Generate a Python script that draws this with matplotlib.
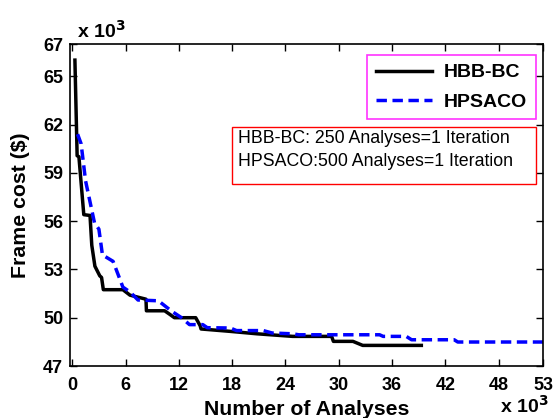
import matplotlib.pyplot as plt
from matplotlib.patches import Rectangle

plt.rcParams['font.family'] = ['Liberation Sans', 'DejaVu Sans']

# HBB-BC convergence (x: analyses / 1000, y: cost / 1000)
hbb_x = [0.3, 0.55, 0.75, 1.3, 2.0, 2.2, 2.55, 3.1, 3.3, 3.5, 5.7, 6.5, 8.3, 8.35,
         10.4, 11.0, 11.5, 13.9, 14.4, 14.5, 17.8, 20.8, 24.8, 29.2, 29.4, 31.6,
         32.7, 39.3]
hbb_y = [66.0, 60.06, 60.0, 56.4, 56.35, 54.5, 53.2, 52.6, 52.5, 51.74, 51.74,
         51.4, 51.15, 50.43, 50.43, 50.2, 50.0, 50.0, 49.5, 49.3, 49.15, 49.0,
         48.84, 48.84, 48.53, 48.53, 48.28, 48.28]

# HPSACO convergence
hps_x = [0.6, 1.0, 1.5, 2.0, 2.5, 3.0, 3.4, 4.6, 5.7, 6.5, 7.4, 9.7, 11.2, 12.3,
         13.2, 14.7, 15.2, 17.8, 18.5, 21.5, 22.5, 24.8, 25.5, 34.6, 35.0, 37.6,
         38.2, 43.0, 43.4, 53.0]
hps_y = [61.4, 60.8, 58.5, 57.2, 55.9, 55.5, 53.9, 53.5, 51.9, 51.6, 51.1, 51.05,
         50.4, 50.0, 49.57, 49.57, 49.38, 49.36, 49.2, 49.2, 49.05, 49.0, 48.94,
         48.94, 48.84, 48.84, 48.63, 48.63, 48.49, 48.49]

xticks = [0, 6, 12, 18, 24, 30, 36, 42, 48, 53]
yticks = [47, 50, 53, 56, 59, 62, 65, 67]

fig = plt.figure(figsize=(5.54, 4.18), dpi=100)
ax = fig.add_axes([0.1264, 0.1244, 0.8538, 0.7703])

ax.plot(hbb_x, hbb_y, color='black', lw=2.5, label='HBB-BC')
ax.plot(hps_x, hps_y, color='blue', lw=2.5, ls=(0, (3, 1.6)), label='HPSACO')

ax.set_xlim(-0.25, 53)
ax.set_ylim(47, 67)
ax.set_xticks(xticks)
ax.set_yticks(yticks)
ax.tick_params(direction='in', top=True, right=True, length=5, width=1,
               labelsize=13)
ax.tick_params(axis='x', pad=8)
ax.tick_params(axis='y', pad=5)
for lab in ax.get_xticklabels() + ax.get_yticklabels():
    lab.set_fontweight('bold')
for s in ax.spines.values():
    s.set_linewidth(1.2)

ax.set_xlabel('Number of Analyses', fontsize=15.3, fontweight='bold', labelpad=4)
ax.set_ylabel('Frame cost ($)', fontsize=15.3, fontweight='bold', labelpad=9)

fig.text(0.139, 0.91, r'x 10$^{\mathbf{3}}$', fontsize=14, fontweight='bold')
fig.text(0.902, 0.012, r'x 10$^{\mathbf{3}}$', fontsize=14, fontweight='bold')

leg = ax.legend(loc='upper right', bbox_to_anchor=(0.985, 0.966),
                prop={'weight': 'bold', 'size': 14}, fancybox=False,
                handlelength=2.9, borderpad=0.45, labelspacing=0.6,
                handletextpad=0.6, borderaxespad=0)
leg.get_frame().set_edgecolor('#ff00ff')
leg.get_frame().set_linewidth(1.2)

ax.add_patch(Rectangle((0.3425, 0.565), 0.6425, 0.177, transform=ax.transAxes,
                       fill=False, edgecolor='red', lw=1, zorder=5))
ax.text(0.355, 0.708, 'HBB-BC: 250 Analyses=1 Iteration', transform=ax.transAxes,
        fontsize=12.8, va='center')
ax.text(0.355, 0.634, 'HPSACO:500 Analyses=1 Iteration', transform=ax.transAxes,
        fontsize=12.8, va='center')

fig.savefig('out.png', dpi=100)
